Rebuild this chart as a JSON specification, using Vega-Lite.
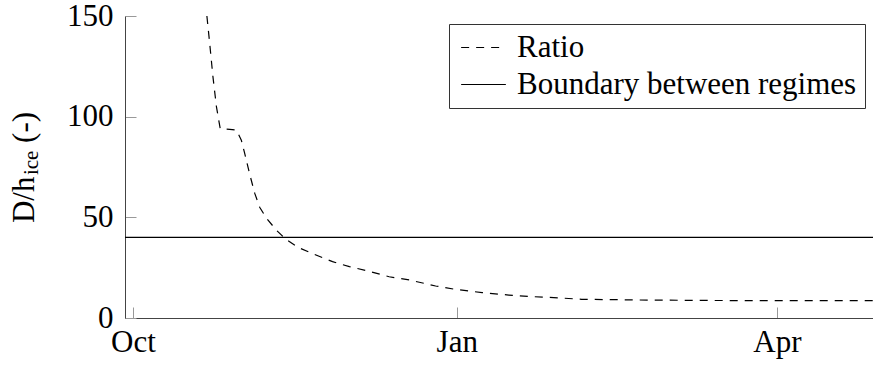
{
  "$schema": "https://vega.github.io/schema/vega-lite/v6.json",
  "width": 748,
  "height": 302,
  "autosize": {"type": "none"},
  "padding": {"left": 125, "top": 16, "right": 0, "bottom": 50},
  "config": {
    "font": "Times New Roman, Tinos, Noto Serif, FreeSerif, Georgia, DejaVu Serif, Liberation Serif",
    "view": {"stroke": null},
    "axis": {
      "grid": false,
      "domainColor": "#444",
      "domainWidth": 1,
      "tickColor": "#999",
      "tickWidth": 1,
      "tickSize": -11,
      "labelFont": "Times New Roman, Tinos, Noto Serif, FreeSerif, Georgia, DejaVu Serif, Liberation Serif",
      "labelFontSize": 31,
      "labelColor": "black",
      "labelFlush": false,
      "labelOverlap": false,
      "labelBound": false,
      "titleFont": "Times New Roman, Tinos, Noto Serif, FreeSerif, Georgia, DejaVu Serif, Liberation Serif",
      "titleFontSize": 31,
      "titleFontWeight": "normal",
      "titleColor": "black"
    },
    "legend": {
      "orient": "top-right",
      "offset": 8,
      "strokeColor": "#333",
      "strokeWidth": 1,
      "fillColor": "white",
      "padding": 8,
      "rowPadding": 5,
      "labelFont": "Times New Roman, Tinos, Noto Serif, FreeSerif, Georgia, DejaVu Serif, Liberation Serif",
      "labelFontSize": 31,
      "labelColor": "black",
      "labelLimit": 0,
      "labelOffset": 18,
      "symbolType": "M-2,0H2",
      "symbolSize": 500,
      "symbolOffset": 11,
      "symbolStrokeWidth": 1.2,
      "symbolStrokeColor": "black",
      "symbolFillColor": "transparent"
    }
  },
  "data": {
    "values": [
      {"date": "2019-10-22T00:00:00", "value": 150, "series": "Ratio"},
      {"date": "2019-10-22T19:00:00", "value": 136.5, "series": "Ratio"},
      {"date": "2019-10-23T17:00:00", "value": 120, "series": "Ratio"},
      {"date": "2019-10-24T17:00:00", "value": 105, "series": "Ratio"},
      {"date": "2019-10-25T19:00:00", "value": 94, "series": "Ratio"},
      {"date": "2019-10-28T12:00:00", "value": 93.7, "series": "Ratio"},
      {"date": "2019-10-30T10:00:00", "value": 93.3, "series": "Ratio"},
      {"date": "2019-10-31T19:00:00", "value": 88.3, "series": "Ratio"},
      {"date": "2019-11-01T17:00:00", "value": 82, "series": "Ratio"},
      {"date": "2019-11-03T02:00:00", "value": 72, "series": "Ratio"},
      {"date": "2019-11-04T14:00:00", "value": 62, "series": "Ratio"},
      {"date": "2019-11-06T00:00:00", "value": 55, "series": "Ratio"},
      {"date": "2019-11-07T22:00:00", "value": 49.6, "series": "Ratio"},
      {"date": "2019-11-10T17:00:00", "value": 43.7, "series": "Ratio"},
      {"date": "2019-11-13T12:00:00", "value": 39, "series": "Ratio"},
      {"date": "2019-11-17T00:00:00", "value": 35, "series": "Ratio"},
      {"date": "2019-11-22T00:00:00", "value": 31.3, "series": "Ratio"},
      {"date": "2019-11-26T17:00:00", "value": 28, "series": "Ratio"},
      {"date": "2019-12-01T12:00:00", "value": 25.5, "series": "Ratio"},
      {"date": "2019-12-06T05:00:00", "value": 23.6, "series": "Ratio"},
      {"date": "2019-12-12T19:00:00", "value": 20.5, "series": "Ratio"},
      {"date": "2019-12-18T12:00:00", "value": 18.9, "series": "Ratio"},
      {"date": "2019-12-26T00:00:00", "value": 15.9, "series": "Ratio"},
      {"date": "2019-12-31T17:00:00", "value": 14.2, "series": "Ratio"},
      {"date": "2020-01-08T05:00:00", "value": 12.6, "series": "Ratio"},
      {"date": "2020-01-15T19:00:00", "value": 11.4, "series": "Ratio"},
      {"date": "2020-01-22T10:00:00", "value": 10.6, "series": "Ratio"},
      {"date": "2020-01-27T00:00:00", "value": 10.3, "series": "Ratio"},
      {"date": "2020-02-05T12:00:00", "value": 9.3, "series": "Ratio"},
      {"date": "2020-02-24T12:00:00", "value": 8.9, "series": "Ratio"},
      {"date": "2020-03-14T00:00:00", "value": 8.7, "series": "Ratio"},
      {"date": "2020-04-02T00:00:00", "value": 8.6, "series": "Ratio"},
      {"date": "2020-04-28T07:00:00", "value": 8.6, "series": "Ratio"},
      {"date": "2019-09-28T17:30:00", "value": 40, "series": "Boundary between regimes"},
      {"date": "2020-04-28T07:00:00", "value": 40, "series": "Boundary between regimes"}
    ]
  },
  "layer": [
    {
      "mark": {"type": "line", "color": "black", "strokeWidth": 1.2, "clip": true},
      "encoding": {
        "x": {
          "field": "date",
          "type": "temporal",
          "scale": {
            "domain": [
              {"year": 2019, "month": 9, "date": 28, "hours": 17, "minutes": 30},
              {"year": 2020, "month": 4, "date": 28, "hours": 7}
            ]
          },
          "axis": {
            "title": null,
            "format": "%b",
            "labelPadding": 20,
            "values": [
              {"year": 2019, "month": 10, "date": 1},
              {"year": 2020, "month": 1, "date": 1},
              {"year": 2020, "month": 4, "date": 1}
            ]
          }
        },
        "y": {
          "field": "value",
          "type": "quantitative",
          "scale": {"domain": [0, 150], "nice": false},
          "axis": {
            "title": "D/h\u2003\u200a(-)",
            "values": [0, 50, 100, 150],
            "labelPadding": 23,
            "titlePadding": 33,
            "titleBaseline": "alphabetic"
          }
        },
        "strokeDash": {
          "field": "series",
          "type": "nominal",
          "scale": {
            "domain": ["Ratio", "Boundary between regimes"],
            "range": [[8, 7], [1, 0]]
          },
          "legend": {"title": null}
        }
      }
    },
    {
      "data": {"values": [{}]},
      "mark": {
        "type": "text",
        "text": "ice",
        "angle": 270,
        "align": "left",
        "baseline": "alphabetic",
        "dy": -87,
        "fontSize": 21,
        "font": "Times New Roman, Tinos, Noto Serif, FreeSerif, Georgia, DejaVu Serif, Liberation Serif",
        "color": "black"
      },
      "encoding": {
        "x": {"datum": {"year": 2019, "month": 9, "date": 28, "hours": 17, "minutes": 30}, "type": "temporal"},
        "y": {"datum": 71, "type": "quantitative"}
      }
    }
  ]
}
